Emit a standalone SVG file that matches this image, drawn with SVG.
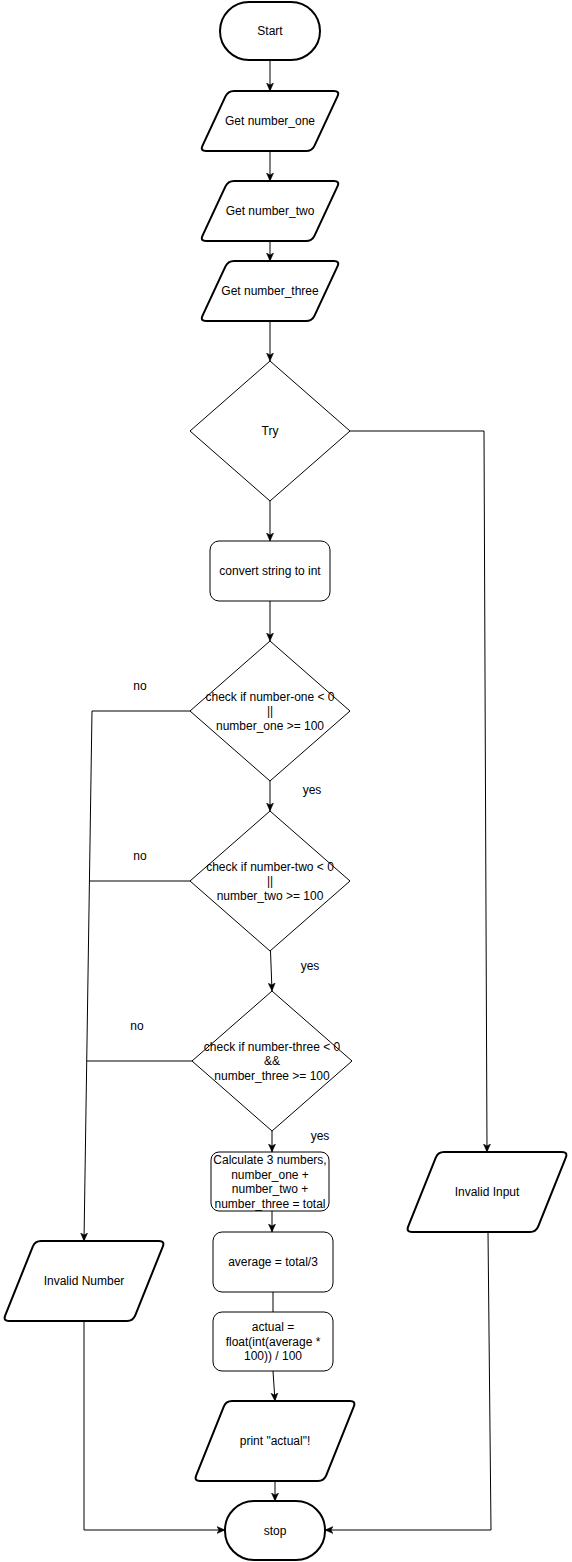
<svg xmlns="http://www.w3.org/2000/svg" xmlns:xlink="http://www.w3.org/1999/xlink" width="572" height="1562" viewBox="0 0 572 1562">
  <style>
    text { font-family: "Liberation Sans", Arial, sans-serif; font-size: 12px; fill: #000; text-anchor: middle; }
    .term, .io { fill: #fff; stroke: #000; stroke-width: 2; }
    .proc { fill: #fff; stroke: #000; stroke-width: 1; }
    .dec { fill: #fff; stroke: #000; stroke-width: 1; }
    .edge { fill: none; stroke: #000; stroke-width: 1; }
    .arrow { marker-end: url(#arrowhead); }
  </style>
  <defs>
    <marker id="arrowhead" viewBox="0 0 8 8" refX="8" refY="4" markerWidth="8" markerHeight="8" markerUnits="userSpaceOnUse" orient="auto">
      <path d="M0,0.5 L8,4 L0,7.5 L2,4 Z" fill="#000" stroke="#000" stroke-width="0.5"/>
    </marker>
    <!-- rounded parallelograms for input/output steps -->
    <path id="para-s" d="M34,0 L134,0 Q140,0 137.46,5.44 L114.54,54.56 Q112,60 106,60 L6,60 Q0,60 2.54,54.56 L25.46,5.44 Q28,0 34,0 Z"/>
    <path id="para-l" d="M38,0 L156,0 Q162,0 159.77,5.57 L132.23,74.43 Q130,80 124,80 L6,80 Q0,80 2.23,74.43 L29.77,5.57 Q32,0 38,0 Z"/>
  </defs>

  <!-- connectors -->
  <g id="edges">
    <path class="edge arrow" d="M270,60 L270,91"/>
    <path class="edge arrow" d="M270,151 L270,181"/>
    <path class="edge arrow" d="M270,241 L270,261"/>
    <path class="edge arrow" d="M270,321 L270,361"/>
    <path class="edge arrow" d="M350,431 L484,431 L487,1152"/>
    <path class="edge arrow" d="M270,501 L270,541"/>
    <path class="edge arrow" d="M270,601 L270,641"/>
    <path class="edge arrow" d="M190,711 L92,711 L84,1241"/>
    <path class="edge" d="M190,881 L89.4,881"/>
    <path class="edge" d="M192,1061 L86.7,1061"/>
    <path class="edge arrow" d="M270,781 L270,811"/>
    <path class="edge arrow" d="M270.5,951 L272,991"/>
    <path class="edge arrow" d="M272,1131 L272,1152"/>
    <path class="edge arrow" d="M272,1211 L272,1232"/>
    <path class="edge" d="M273,1292 L273,1312"/>
    <path class="edge arrow" d="M273,1371 L275,1401"/>
    <path class="edge arrow" d="M275,1481 L275,1501"/>
    <path class="edge arrow" d="M84,1321 L84,1530 L225,1530"/>
    <path class="edge arrow" d="M488,1231 L491,1530 L325,1530"/>
    <text x="140" y="690">no</text>
    <text x="312" y="794">yes</text>
    <text x="140" y="860">no</text>
    <text x="310" y="970">yes</text>
    <text x="137" y="1030">no</text>
    <text x="320" y="1140">yes</text>
  </g>

  <g id="start">
    <rect class="term" x="220" y="2" width="100" height="58" rx="29" ry="29"/>
    <text x="270" y="35">Start</text>
  </g>

  <g id="get-number-one">
    <use xlink:href="#para-s" class="io" transform="translate(200,91)"/>
    <text x="270" y="125">Get number_one</text>
  </g>

  <g id="get-number-two">
    <use xlink:href="#para-s" class="io" transform="translate(200,181)"/>
    <text x="270" y="215">Get number_two</text>
  </g>

  <g id="get-number-three">
    <use xlink:href="#para-s" class="io" transform="translate(200,261)"/>
    <text x="270" y="295">Get number_three</text>
  </g>

  <g id="try">
    <polygon class="dec" points="270,361 350,431 270,501 190,431"/>
    <text x="270" y="435">Try</text>
  </g>

  <g id="convert">
    <rect class="proc" x="210" y="541" width="120" height="60" rx="9" ry="9"/>
    <text x="270" y="575">convert string to int</text>
  </g>

  <g id="check-one">
    <polygon class="dec" points="270,641 350,711 270,781 190,711"/>
    <text x="270" y="701">check if number-one &lt; 0</text>
    <text x="270" y="715">||</text>
    <text x="270" y="730">number_one &gt;= 100</text>
  </g>

  <g id="check-two">
    <polygon class="dec" points="270,811 350,881 270,951 190,881"/>
    <text x="270" y="871">check if number-two &lt; 0</text>
    <text x="270" y="885">||</text>
    <text x="270" y="900">number_two &gt;= 100</text>
  </g>

  <g id="check-three">
    <polygon class="dec" points="272,991 352,1061 272,1131 192,1061"/>
    <text x="272" y="1051">check if number-three &lt; 0</text>
    <text x="272" y="1065">&amp;&amp;</text>
    <text x="272" y="1080">number_three &gt;= 100</text>
  </g>

  <g id="calculate">
    <rect class="proc" x="211" y="1152" width="118" height="59" rx="8" ry="8"/>
    <text x="270" y="1164">Calculate 3 numbers,</text>
    <text x="270" y="1178.5">number_one +</text>
    <text x="270" y="1193">number_two +</text>
    <text x="270" y="1207.5">number_three = total</text>
  </g>

  <g id="average">
    <rect class="proc" x="213" y="1232" width="120" height="60" rx="9" ry="9"/>
    <text x="273" y="1266">average = total/3</text>
  </g>

  <g id="actual">
    <rect class="proc" x="213" y="1312" width="120" height="59" rx="9" ry="9"/>
    <text x="273" y="1331">actual =</text>
    <text x="273" y="1345.5">float(int(average *</text>
    <text x="273" y="1360">100)) / 100</text>
  </g>

  <g id="print-actual">
    <use xlink:href="#para-l" class="io" transform="translate(194,1401)"/>
    <text x="275" y="1445">print "actual"!</text>
  </g>

  <g id="invalid-number">
    <use xlink:href="#para-l" class="io" transform="translate(3,1241)"/>
    <text x="84" y="1285">Invalid Number</text>
  </g>

  <g id="invalid-input">
    <use xlink:href="#para-l" class="io" transform="translate(406,1152)"/>
    <text x="487" y="1196">Invalid Input</text>
  </g>

  <g id="stop">
    <rect class="term" x="225" y="1501" width="100" height="59" rx="29" ry="29"/>
    <text x="275" y="1535">stop</text>
  </g>
</svg>
